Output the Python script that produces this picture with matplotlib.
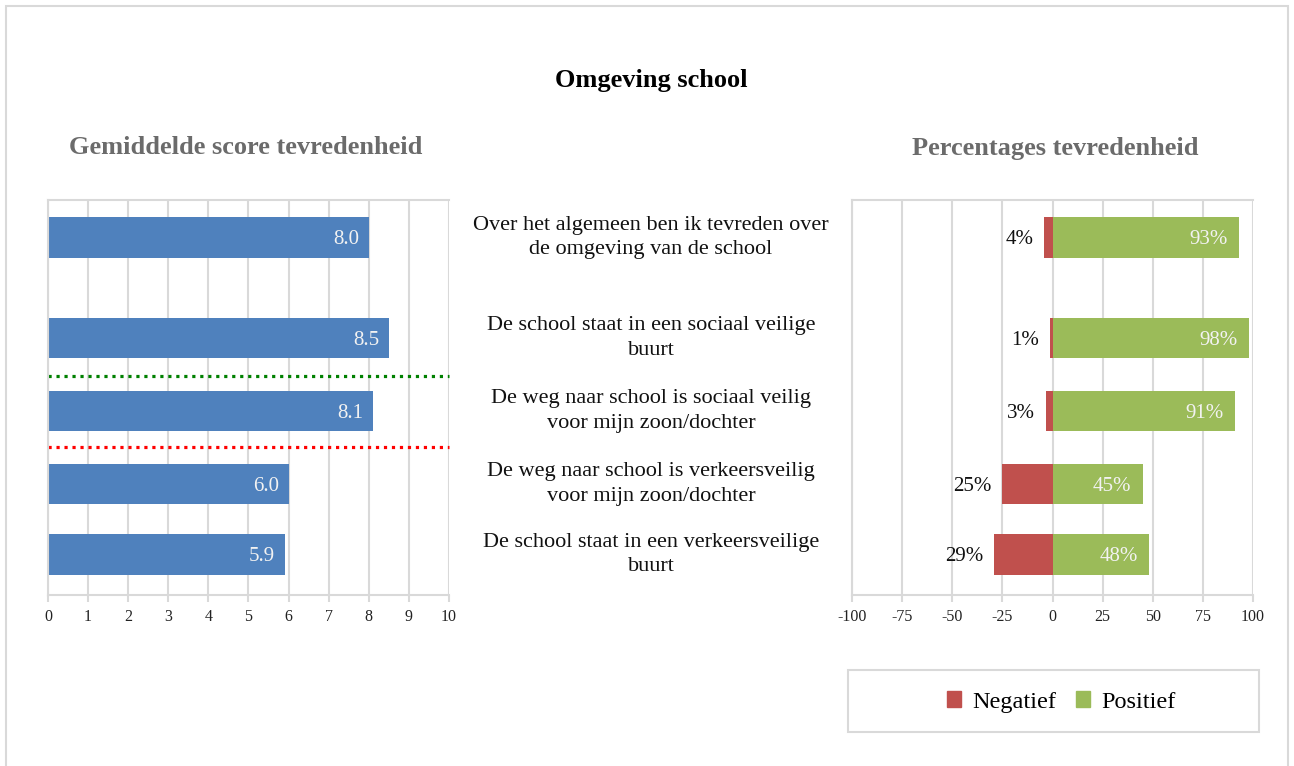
import matplotlib
matplotlib.use("Agg")
import matplotlib.pyplot as plt
from matplotlib.patches import Rectangle, Patch
from matplotlib.transforms import blended_transform_factory

plt.rcParams['font.family'] = ['Liberation Serif', 'DejaVu Serif']
plt.rcParams['axes.unicode_minus'] = False

# data
questions = [
    "Over het algemeen ben ik tevreden over\nde omgeving van de school",
    "De school staat in een sociaal veilige\nbuurt",
    "De weg naar school is sociaal veilig\nvoor mijn zoon/dochter",
    "De weg naar school is verkeersveilig\nvoor mijn zoon/dochter",
    "De school staat in een verkeersveilige\nbuurt",
]
mean_scores = [8.0, 8.5, 8.1, 6.0, 5.9]
negatief = [4, 1, 3, 25, 29]
positief = [93, 98, 91, 45, 48]

# layout (row positions are uneven in the original)
rows = [0, 1.377, 2.377, 3.377, 4.342]
green_line = 1.897
red_line = 2.870
ylim = (4.897, -0.514)
bar_h = 0.56

W, H = 1294, 766
fig = plt.figure(figsize=(W / 100, H / 100), dpi=100)

grid_c = "#d9d9d9"
blue = "#4f81bd"
red = "#c0504d"
green = "#9bbb59"


def style_axes(ax):
    ax.set_ylim(*ylim)
    ax.set_yticks([])
    ax.grid(axis="x", color=grid_c, lw=1.5)
    ax.set_axisbelow(True)
    for s in ["left", "right", "top", "bottom"]:
        ax.spines[s].set_color(grid_c)
        ax.spines[s].set_linewidth(1.5)
    ax.spines["right"].set_visible(False)
    ax.tick_params(axis="x", length=5, width=1.5, color=grid_c,
                   labelsize=11.5, labelcolor="#222222", pad=5)


# left: mean scores
ax1 = fig.add_axes([48 / W, 1 - 595 / H, 401 / W, 395 / H])
ax1.barh(rows, mean_scores, height=bar_h, color=blue)
ax1.set_xlim(0, 10)
ax1.set_xticks(range(0, 11))
style_axes(ax1)
for y, v in zip(rows, mean_scores):
    ax1.annotate(f"{v:.1f}", (v, y), xytext=(-7, -1.5), textcoords="offset points",
                 ha="right", va="center", color="#f2f2f2", fontsize=15)
ax1.axhline(green_line, color="#008000", lw=2.3, ls=(0, (1, 1.5)), clip_on=False)
ax1.axhline(red_line, color="#ff0000", lw=2.3, ls=(0, (1, 1.5)), clip_on=False)

# right: percentages
ax2 = fig.add_axes([852 / W, 1 - 595 / H, 401 / W, 395 / H])
ax2.barh(rows, [-n for n in negatief], height=bar_h, color=red, label="Negatief")
ax2.barh(rows, positief, height=bar_h, color=green, label="Positief")
ax2.set_xlim(-100, 100)
ax2.set_xticks(range(-100, 101, 25))
style_axes(ax2)
for y, n, p in zip(rows, negatief, positief):
    ax2.annotate(f"{n}%", (-n, y), xytext=(-8, -1.5), textcoords="offset points",
                 ha="right", va="center", color="#111111", fontsize=15)
    ax2.annotate(f"{p}%", (p, y), xytext=(-8, -1.5), textcoords="offset points",
                 ha="right", va="center", color="#f2f2f2", fontsize=15)

# question labels in the middle
tr = blended_transform_factory(fig.transFigure, ax1.transData)
for y, q in zip(rows, questions):
    fig.text(651 / W, y, q, transform=tr, ha="center", va="center",
             fontsize=16, color="#111111", linespacing=1.42)

# titles
fig.text(651 / W, 1 - 81 / H, "Omgeving school", ha="center", va="center",
         fontsize=19, fontweight="bold", color="black")
fig.text(246 / W, 1 - 148 / H, "Gemiddelde score tevredenheid", ha="center",
         va="center", fontsize=19, fontweight="bold", color="#6b6b6b")
fig.text(1055 / W, 1 - 148 / H, "Percentages tevredenheid", ha="center",
         va="center", fontsize=19, fontweight="bold", color="#6b6b6b")

# legend with its own box
fig.patches.append(Rectangle((848 / W, 1 - 732 / H), 411 / W, 62 / H,
                             transform=fig.transFigure, fill=False,
                             edgecolor=grid_c, lw=1.5))
fig.legend(handles=[Patch(color=red, label="Negatief"),
                    Patch(color=green, label="Positief")],
           loc="center", bbox_to_anchor=(1061 / W, 1 - 702 / H), ncol=2,
           frameon=False, fontsize=17.5, handlelength=0.6, handleheight=0.6,
           handletextpad=0.45, columnspacing=0.8)

# outer border
fig.patches.append(Rectangle((6 / W, -0.05), 1282 / W, 1.05 - 6 / H,
                             transform=fig.transFigure, fill=False,
                             edgecolor=grid_c, lw=1.5))

fig.savefig("out.png", dpi=100)
